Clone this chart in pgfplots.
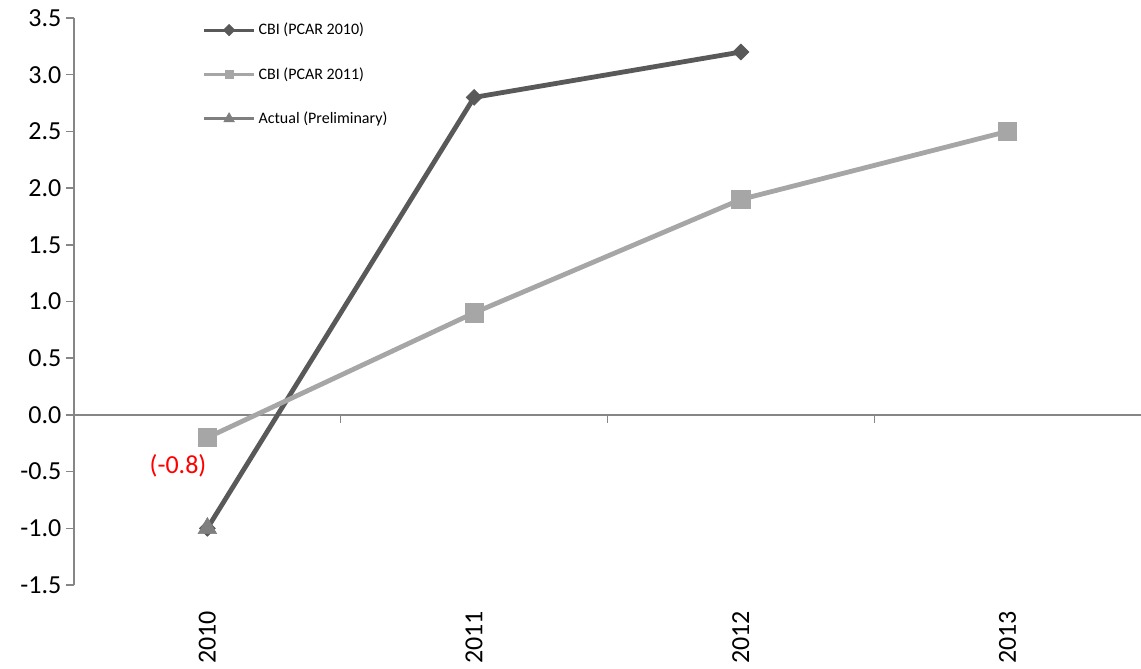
\documentclass[border=0pt]{standalone}
\usepackage{pgfplots}
\pgfplotsset{compat=1.18}
\usepackage{fontspec}
\setmainfont{Carlito}
\definecolor{darkser}{HTML}{595959}
\definecolor{lightser}{HTML}{A6A6A6}
\definecolor{actser}{HTML}{7F7F7F}
\definecolor{axisgray}{HTML}{868686}
\begin{document}
\begin{tikzpicture}
\begin{axis}[
  scale only axis,
  width=800.25pt, height=425.25pt,
  xmin=0, xmax=4, ymin=-1.5, ymax=3.5,
  axis y line*=left,
  axis x line*=bottom,
  x axis line style={draw=none},
  y axis line style={axisgray, line width=1.1pt},
  xtick={0.5,1.5,2.5,3.5},
  xticklabels={2010,2011,2012,2013},
  xtick style={draw=none},
  xticklabel style={rotate=90, anchor=east, inner sep=0pt},
  xticklabel shift=13.5pt,
  ytick={-1.5,-1,-0.5,0,0.5,1,1.5,2,2.5,3,3.5},
  ytick style={axisgray, line width=1.1pt},
  tick align=outside,
  major tick length=6pt,
  yticklabel={\pgfmathprintnumber[fixed,fixed zerofill,precision=1]{\tick}},
  /pgf/number format/assume math mode=true,
  ticklabel style={font=\fontsize{19.5}{23}\selectfont},
  clip=false,
  legend style={draw=none, fill=none, at={(0.12,0.996)}, anchor=north west,
    font=\fontsize{12}{14}\selectfont, row sep=19pt, inner sep=0pt,
    nodes={inner sep=2pt}},
  legend cell align=left,
  legend image code/.code={\draw[mark size=3pt, line width=2.2pt, mark repeat=2, mark phase=2] plot coordinates {(0pt,0pt) (19pt,0pt) (38pt,0pt)};},
]
\draw[axisgray, line width=1.1pt] (axis cs:0,0) -- (axis cs:4,0);
\draw[axisgray, line width=1.1pt] (axis cs:1,0) -- ([yshift=-6pt]axis cs:1,0);
\draw[axisgray, line width=1.1pt] (axis cs:2,0) -- ([yshift=-6pt]axis cs:2,0);
\draw[axisgray, line width=1.1pt] (axis cs:3,0) -- ([yshift=-6pt]axis cs:3,0);
\addplot[darkser, line width=3.6pt, mark=square*, mark size=4.2pt,
  mark options={rotate=45, fill=darkser, draw=darkser, line width=0.5pt}]
  coordinates {(0.5,-1.0) (1.5,2.8) (2.5,3.2)};
\addlegendentry{CBI (PCAR 2010)}
\addplot[lightser, line width=3.6pt, mark=square*, mark size=6.8pt,
  mark options={fill=lightser, draw=lightser, line width=0.5pt}]
  coordinates {(0.5,-0.2) (1.5,0.9) (2.5,1.9) (3.5,2.5)};
\addlegendentry{CBI (PCAR 2011)}
\addplot[actser, line width=3.6pt, mark=triangle*, mark size=8pt,
  mark options={fill=actser, draw=actser, line width=0.5pt},
  legend image code/.code={\draw[mark size=4.5pt, line width=2.2pt, mark repeat=2, mark phase=2] plot coordinates {(0pt,0pt) (19pt,0pt) (38pt,0pt)};}]
  coordinates {(0.5,-1.0)};
\addlegendentry{Actual (Preliminary)}
\node[text=red, font=\fontsize{19.5}{23}\selectfont] at (axis cs:0.39,-0.45) {(-0.8)};
\end{axis}
\pgfresetboundingbox
\path[use as bounding box] ([xshift=-55.5pt,yshift=-63pt]current axis.south west) rectangle ([yshift=13.5pt]current axis.north east);
\end{tikzpicture}
\end{document}
